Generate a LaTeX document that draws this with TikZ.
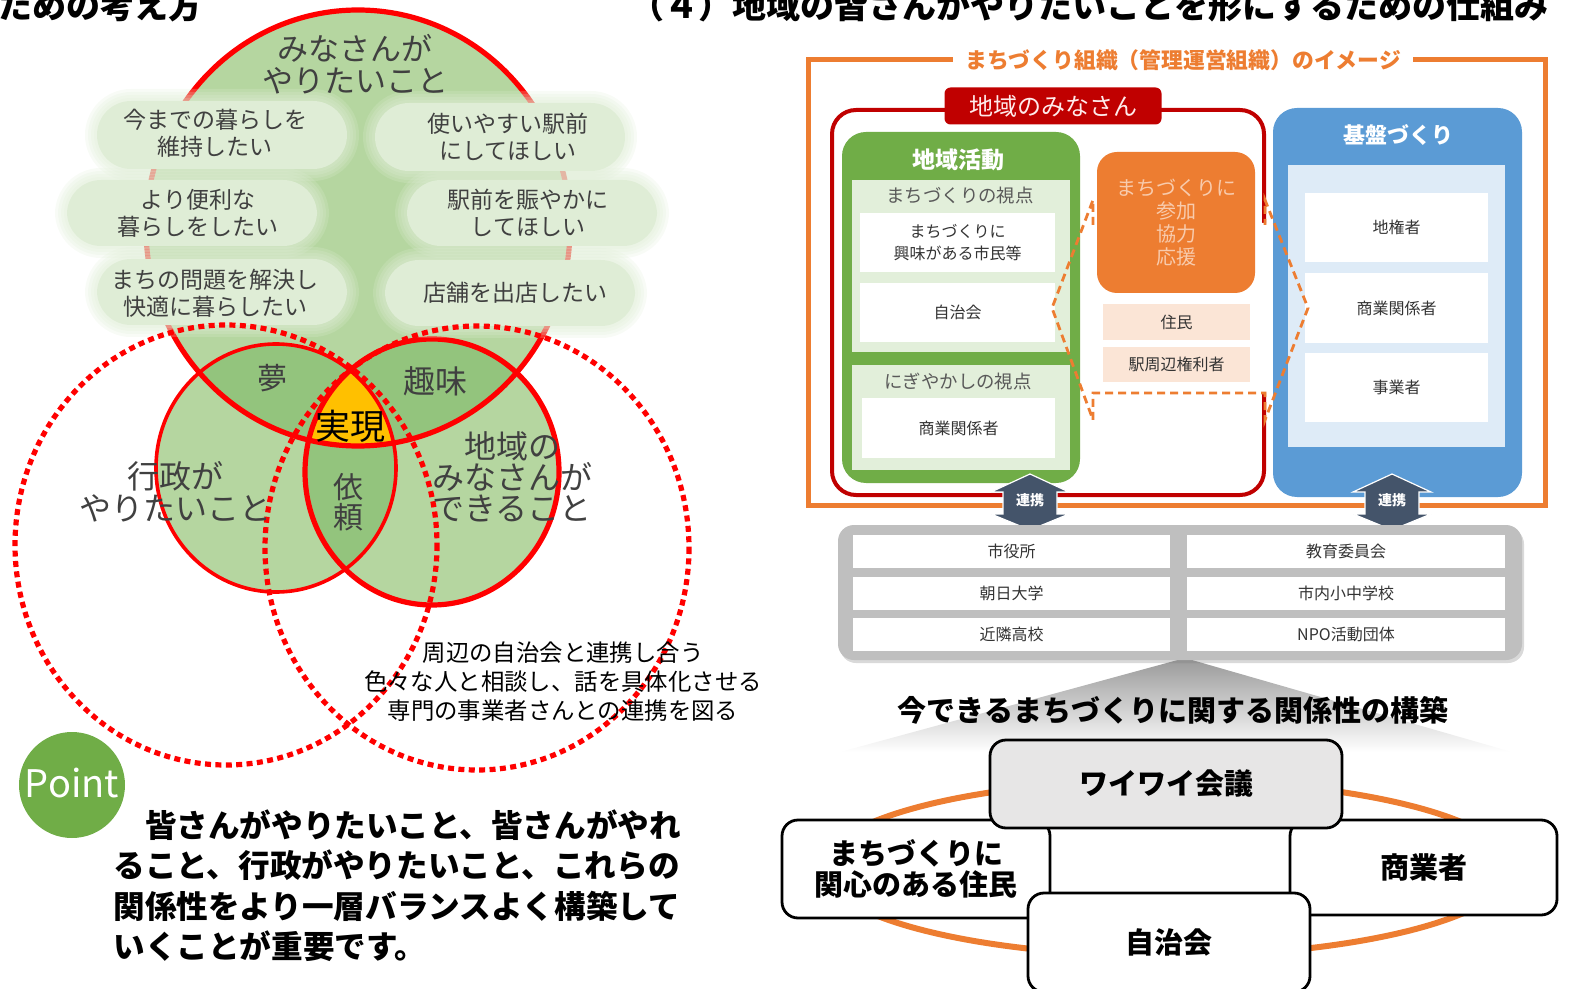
\documentclass[tikz,border=0pt]{standalone}
\usepackage{fontspec}
\setmainfont{Noto Sans CJK JP}
\usetikzlibrary{shadows}
\definecolor{lg}{HTML}{B5D6A0}
\definecolor{dg}{HTML}{93C47D}
\definecolor{gold}{HTML}{FFC000}
\definecolor{pillc}{HTML}{DFEDD6}
\definecolor{vred}{HTML}{FF0000}
\definecolor{org}{HTML}{ED7D31}
\definecolor{dred}{HTML}{C00000}
\definecolor{grn}{HTML}{70AD47}
\definecolor{pgrn}{HTML}{E2EFDA}
\definecolor{blu}{HTML}{5B9BD5}
\definecolor{pblu}{HTML}{DEEBF7}
\definecolor{peach}{HTML}{FBE5D6}
\definecolor{lorg}{HTML}{F8CBAD}
\definecolor{slate}{HTML}{44546A}
\definecolor{gry}{HTML}{BFBFBF}
\definecolor{lgry}{HTML}{E7E6E6}
\definecolor{txt}{HTML}{404040}
\newcommand\fsz[2]{\fontsize{#1pt}{#2pt}\selectfont}
% pill: cx cy w h (soft-edged)
\newcommand\pill[4]{%
 \foreach \g/\r in {12/23,9/21.5,6/20,3/18.5}{%
  \fill[pillc,opacity=.22,rounded corners=\r pt] ({#1-#3/2-\g},{#2-#4/2-\g}) rectangle ({#1+#3/2+\g},{#2+#4/2+\g});}
 \fill[pillc,rounded corners=17pt] ({#1-#3/2},{#2-#4/2}) rectangle ({#1+#3/2},{#2+#4/2});}
% box: name x1 y1 x2 y2 pathstyle nodestyle text
\newcommand\rbox[8]{%
 \path[#6] (#2,#3) rectangle (#4,#5);
 \node[align=center,inner sep=0pt,#7] (#1) at ({(#2+#4)/2},{(#3+#5)/2}) {#8};}
\newcommand\linkarrow[2]{%
 \fill[slate,draw=white,line width=.6pt] (#2,474) -- ({#2+39},492) -- ({#2+27},492) -- ({#2+27},514) -- ({#2+39},514) -- (#2,530) -- ({#2-39},514) -- ({#2-27},514) -- ({#2-27},492) -- ({#2-39},492) -- cycle;
 \node[text=white,font=\bfseries\fsz{7}{8}] (#1) at (#2,500) {連携};}
\tikzset{
 vtext/.style={text=txt,align=center,inner sep=0pt},
 dotc/.style={draw=vred,line width=2.6pt,dash pattern=on 3pt off 2.2pt},
 cellbox/.style={fill=white},
 celltext/.style={text=black!80,font=\fsz{8}{10}},
 bigbox/.style={draw=black,line width=1.4pt,fill=white,rounded corners=8pt},
 bigtext/.style={font=\bfseries\fsz{14.5}{16}},
}
\begin{document}
\begin{tikzpicture}[x=0.5pt,y=-0.5pt]
\useasboundingbox (0,0) rectangle (1573,989);
\clip (0,0) rectangle (1573,989);
% headers
\node[anchor=base west,inner sep=0pt,font=\bfseries\fsz{17}{20}] (h1) at (-2,19) {ための考え方};
\node[anchor=base west,inner sep=0pt,font=\bfseries\fsz{17}{20}] (h2) at (630,19) {（４）地域の皆さんがやりたいことを形にするための仕組み};
% ---------- Venn ----------
\def\topE{(358,228) ellipse [x radius=212, y radius=218]}
\def\leftC{(276,468) ellipse [x radius=120, y radius=124]}
\def\rightC{(432,472) ellipse [x radius=127, y radius=133]}
\fill[lg] \topE;
\fill[lg] \leftC;
\fill[lg] \rightC;
\begin{scope}\clip \topE; \fill[dg] \leftC; \fill[dg] \rightC; \end{scope}
\begin{scope}\clip \leftC; \fill[dg] \rightC; \end{scope}
\begin{scope}\clip \topE; \clip \leftC; \fill[gold] \rightC; \end{scope}
\draw[vred,line width=2.6pt] \topE;
\draw[vred,line width=1.8pt] \leftC;
\draw[vred,line width=2.6pt] \rightC;
% pills
\pill{222}{135}{250}{68}
\pill{500}{137}{250}{68}
\pill{192}{213}{250}{66}
\pill{532}{213}{250}{66}
\pill{222}{292}{250}{66}
\pill{510}{293}{250}{66}
% dotted circles
\draw[dotc] (226,545) ellipse [x radius=211, y radius=220];
\draw[dotc] (477,548) ellipse [x radius=212, y radius=222];
% venn texts
\node[vtext,font=\fsz{15.5}{16}] (t0) at (355,64) {みなさんが\\やりたいこと};
\node[vtext,font=\fsz{11.5}{13.5}] (p1) at (215,133) {今までの暮らしを\\維持したい};
\node[vtext,font=\fsz{11.5}{13.5}] (p2) at (508,137) {使いやすい駅前\\にしてほしい};
\node[vtext,font=\fsz{11.5}{13.5}] (p3) at (198,213) {より便利な\\暮らしをしたい};
\node[vtext,font=\fsz{11.5}{13.5}] (p4) at (528,213) {駅前を賑やかに\\してほしい};
\node[vtext,font=\fsz{11.5}{13.5}] (p5) at (215,293) {まちの問題を解決し\\快適に暮らしたい};
\node[vtext,font=\fsz{11.5}{13.5}] (p6) at (515,293) {店舗を出店したい};
\node[vtext,font=\fsz{15}{16}] (yume) at (272,378) {夢};
\node[vtext,font=\fsz{16}{16}] (shumi) at (435,381) {趣味};
\node[align=center,inner sep=0pt,font=\fsz{17.5}{18}] (jitsu) at (350,426) {実現};
\node[vtext,font=\fsz{15}{15}] (irai) at (348,502) {依\\頼};
\node[vtext,font=\fsz{16}{16}] (gyosei) at (175,492) {行政が\\やりたいこと};
\node[vtext,font=\fsz{16}{15.5}] (chiiki) at (512,477) {地域の\\みなさんが\\できること};
\node[align=center,inner sep=0pt,font=\fsz{11.7}{14.5}] (renkei) at (563,682) {周辺の自治会と連携し合う\\色々な人と相談し、話を具体化させる\\専門の事業者さんとの連携を図る};
% point
\node[circle,fill=grn,minimum size=53pt,inner sep=0pt] (pt) at (72,785) {};
\node[text=white,font=\fsz{19}{22},inner sep=0pt] (ptt) at (72,783) {Point};
\node[anchor=north west,align=left,inner sep=0pt,font=\bfseries\fsz{15.8}{20.25}] (ptext) at (113,809) {　皆さんがやりたいこと、皆さんがやれ\\ること、行政がやりたいこと、これらの\\関係性をより一層バランスよく構築して\\いくことが重要です。};
% ---------- right panel ----------
\draw[org,line width=2.5pt] (808,60) rectangle (1545,505);
\node[fill=white,inner xsep=6pt,inner ysep=2pt,text=org,font=\bfseries\fsz{10.9}{13}] (otitle) at (1183,60) {まちづくり組織（管理運営組織）のイメージ};
\draw[dred,line width=2pt,fill=white,rounded corners=12pt] (832,110) rectangle (1264,495);
\fill[white] (1093,223) -- (1266,223) -- (1308,308) -- (1266,393) -- (1093,393) -- (1052,308) -- cycle;
% green
\path[fill=grn,rounded corners=12pt] (842,132) rectangle (1080,483);
\node[text=white,font=\bfseries\fsz{11.5}{13}] (gtitle) at (958,160) {地域活動};
\fill[pgrn] (852,180) rectangle (1070,352);
\node[text=black!65,font=\fsz{9.2}{11}] (gl1) at (960,196) {まちづくりの視点};
\rbox{g1}{860}{213}{1055}{272}{cellbox}{celltext,font=\fsz{8}{11}}{まちづくりに\\興味がある市民等}
\rbox{g2}{860}{283}{1055}{342}{cellbox}{celltext}{自治会}
\fill[pgrn] (852,365) rectangle (1070,470);
\node[text=black!65,font=\fsz{9.2}{11}] (gl2) at (958,381) {にぎやかしの視点};
\rbox{g3}{862}{398}{1055}{458}{cellbox}{celltext}{商業関係者}
% blue
\path[fill=blu,rounded corners=12pt] (1273,108) rectangle (1522,497);
\node[text=white,font=\bfseries\fsz{11}{13}] (btitle) at (1398,135) {基盤づくり};
\fill[pblu] (1288,165) rectangle (1505,447);
\rbox{b1}{1305}{193}{1488}{262}{cellbox}{celltext}{地権者}
\rbox{b2}{1305}{273}{1488}{343}{cellbox}{celltext}{商業関係者}
\rbox{b3}{1305}{353}{1488}{422}{cellbox}{celltext}{事業者}
% red label
\node[fill=dred,rounded corners=3pt,minimum width=108.5pt,minimum height=18.5pt,inner sep=0pt,text=red!8,font=\fsz{12}{13}] (rlabel) at (1053,106) {地域のみなさん};
% orange centre
\rbox{o1}{1097}{152}{1255}{293}{fill=org,rounded corners=10pt}{text=lorg,font=\fsz{10}{11.5}}{まちづくりに\\参加\\協力\\応援}
\rbox{o2}{1103}{304}{1250}{340}{fill=peach}{celltext}{住民}
\rbox{o3}{1103}{347}{1250}{382}{fill=peach}{celltext}{駅周辺権利者}
\draw[org,line width=1.4pt,dash pattern=on 4pt off 2.5pt] (1093,225) -- (1093,200) -- (1052,308) -- (1093,420) -- (1093,393) -- (1265,393) -- (1265,420) -- (1308,308) -- (1265,200) -- (1265,225);
% arrows
\linkarrow{a1}{1030}
\linkarrow{a2}{1392}
% fan
\shade[top color=gray!80,bottom color=white] (1185,658) -- (1512,752) -- (840,752) -- cycle;
% gray box
\path[fill=gry,rounded corners=8pt,drop shadow={opacity=.3,shadow xshift=1pt,shadow yshift=-1.5pt}] (838,525) rectangle (1522,660);
\rbox{c1}{853}{535}{1170}{568}{cellbox}{celltext}{市役所}
\rbox{c2}{1187}{535}{1505}{568}{cellbox}{celltext}{教育委員会}
\rbox{c3}{853}{577}{1170}{610}{cellbox}{celltext}{朝日大学}
\rbox{c4}{1187}{577}{1505}{610}{cellbox}{celltext}{市内小中学校}
\rbox{c5}{853}{618}{1170}{651}{cellbox}{celltext}{近隣高校}
\rbox{c6}{1187}{618}{1505}{651}{cellbox}{celltext}{NPO活動団体}
\node[font=\bfseries\fsz{14.5}{16}] (ftitle) at (1173,710) {今できるまちづくりに関する関係性の構築};
% bottom cluster
\draw[org,line width=3pt] (1167,868) ellipse [x radius=345, y radius=88];
\fill[white] (1050,828) rectangle (1290,895);
\rbox{k1}{782}{820}{1050}{918}{bigbox}{bigtext,font=\bfseries\fsz{14.5}{15.5}}{まちづくりに\\関心のある住民}
\rbox{k2}{1290}{820}{1557}{915}{bigbox}{bigtext}{商業者}
\rbox{k3}{990}{740}{1342}{828}{bigbox,fill=lgry}{bigtext}{ワイワイ会議}
\rbox{k4}{1028}{893}{1310}{992}{bigbox}{bigtext}{自治会}
\end{tikzpicture}
\end{document}
